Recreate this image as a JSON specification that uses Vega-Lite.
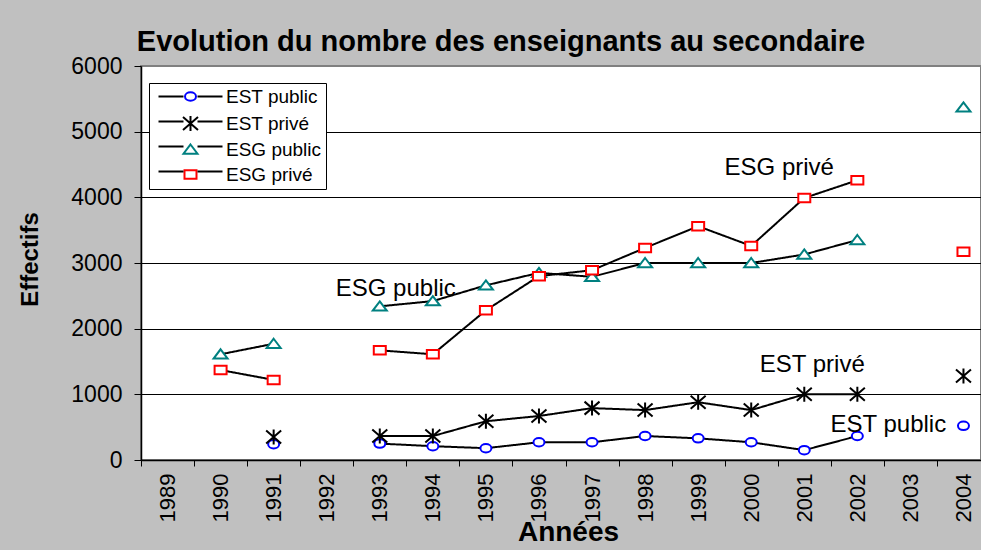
{
  "$schema": "https://vega.github.io/schema/vega-lite/v6.json",
  "width": 840,
  "height": 394,
  "autosize": {"type": "none"},
  "padding": {"left": 141, "top": 66, "right": 0, "bottom": 90},
  "background": "#c0c0c0",
  "title": {
    "text": "Evolution du nombre des enseignants au secondaire",
    "font": "Liberation Sans",
    "fontSize": 29,
    "fontWeight": "bold",
    "color": "black",
    "anchor": "middle",
    "dx": -60,
    "offset": -2
  },
  "config": {
    "font": "Liberation Sans",
    "view": {"fill": "white", "stroke": "#808080", "strokeWidth": 2}
  },
  "datasets": {
    "main": [
      {"year": "1991", "series": "EST public", "value": 240},
      {"year": "1992", "series": "EST public", "value": null},
      {"year": "1993", "series": "EST public", "value": 250},
      {"year": "1994", "series": "EST public", "value": 210},
      {"year": "1995", "series": "EST public", "value": 180},
      {"year": "1996", "series": "EST public", "value": 270},
      {"year": "1997", "series": "EST public", "value": 270},
      {"year": "1998", "series": "EST public", "value": 365},
      {"year": "1999", "series": "EST public", "value": 330},
      {"year": "2000", "series": "EST public", "value": 270},
      {"year": "2001", "series": "EST public", "value": 150},
      {"year": "2002", "series": "EST public", "value": 365},
      {"year": "2003", "series": "EST public", "value": null},
      {"year": "2004", "series": "EST public", "value": 520},
      {"year": "1991", "series": "EST privé", "value": 350},
      {"year": "1992", "series": "EST privé", "value": null},
      {"year": "1993", "series": "EST privé", "value": 365},
      {"year": "1994", "series": "EST privé", "value": 365},
      {"year": "1995", "series": "EST privé", "value": 590},
      {"year": "1996", "series": "EST privé", "value": 670},
      {"year": "1997", "series": "EST privé", "value": 790},
      {"year": "1998", "series": "EST privé", "value": 760},
      {"year": "1999", "series": "EST privé", "value": 880},
      {"year": "2000", "series": "EST privé", "value": 760},
      {"year": "2001", "series": "EST privé", "value": 1000},
      {"year": "2002", "series": "EST privé", "value": 1000},
      {"year": "2003", "series": "EST privé", "value": null},
      {"year": "2004", "series": "EST privé", "value": 1280},
      {"year": "1990", "series": "ESG public", "value": 1610},
      {"year": "1991", "series": "ESG public", "value": 1770},
      {"year": "1992", "series": "ESG public", "value": null},
      {"year": "1993", "series": "ESG public", "value": 2340},
      {"year": "1994", "series": "ESG public", "value": 2420},
      {"year": "1995", "series": "ESG public", "value": 2660},
      {"year": "1996", "series": "ESG public", "value": 2850},
      {"year": "1997", "series": "ESG public", "value": 2790},
      {"year": "1998", "series": "ESG public", "value": 3000},
      {"year": "1999", "series": "ESG public", "value": 3000},
      {"year": "2000", "series": "ESG public", "value": 3000},
      {"year": "2001", "series": "ESG public", "value": 3130},
      {"year": "2002", "series": "ESG public", "value": 3350},
      {"year": "2003", "series": "ESG public", "value": null},
      {"year": "2004", "series": "ESG public", "value": 5370},
      {"year": "1990", "series": "ESG privé", "value": 1370},
      {"year": "1991", "series": "ESG privé", "value": 1220},
      {"year": "1992", "series": "ESG privé", "value": null},
      {"year": "1993", "series": "ESG privé", "value": 1670},
      {"year": "1994", "series": "ESG privé", "value": 1610},
      {"year": "1995", "series": "ESG privé", "value": 2280},
      {"year": "1996", "series": "ESG privé", "value": 2800},
      {"year": "1997", "series": "ESG privé", "value": 2890},
      {"year": "1998", "series": "ESG privé", "value": 3230},
      {"year": "1999", "series": "ESG privé", "value": 3560},
      {"year": "2000", "series": "ESG privé", "value": 3260},
      {"year": "2001", "series": "ESG privé", "value": 3990},
      {"year": "2002", "series": "ESG privé", "value": 4260},
      {"year": "2003", "series": "ESG privé", "value": null},
      {"year": "2004", "series": "ESG privé", "value": 3170}
    ]
  },
  "layer": [
    {
      "data": {"name": "main"},
      "mark": {"type": "line", "color": "black", "strokeWidth": 2},
      "encoding": {
        "x": {
          "field": "year",
          "type": "ordinal",
          "scale": {
            "domain": ["1989","1990","1991","1992","1993","1994","1995","1996","1997","1998","1999","2000","2001","2002","2003","2004"],
            "range": [0, 849],
            "paddingInner": 0,
            "paddingOuter": 0
          },
          "axis": {
            "title": "Années",
            "titleFont": "Liberation Sans",
            "titleFontSize": 28,
            "titleFontWeight": "bold",
            "titleColor": "black",
            "titleX": 427,
            "titleY": 80,
            "titleAlign": "center",
            "titleBaseline": "alphabetic",
            "labelAngle": 270,
            "labelAlign": "right",
            "labelBaseline": "middle",
            "labelFont": "Liberation Sans",
            "labelFontSize": 22,
            "labelColor": "black",
            "labelPadding": 7,
            "tickBand": "extent",
            "tickSize": 6,
            "tickColor": "black",
            "domainColor": "black",
            "domainWidth": 1.5,
            "grid": false
          }
        },
        "y": {
          "field": "value",
          "type": "quantitative",
          "scale": {"domain": [0, 6000], "nice": false},
          "axis": {
            "title": "Effectifs",
            "titleFont": "Liberation Sans",
            "titleFontSize": 24,
            "titleFontWeight": "bold",
            "titleColor": "black",
            "titleX": -111,
            "titleY": 193,
            "titleAngle": 270,
            "titleAlign": "center",
            "titleBaseline": "middle",
            "values": [0, 1000, 2000, 3000, 4000, 5000, 6000],
            "format": "d",
            "labelFont": "Liberation Sans",
            "labelFontSize": 23,
            "labelColor": "black",
            "labelPadding": 12,
            "tickSize": 7,
            "tickColor": "black",
            "domainColor": "black",
            "domainWidth": 1.5,
            "grid": true,
            "gridColor": "black",
            "gridWidth": 1,
            "gridOpacity": {"condition": {"test": "datum.value === 6000", "value": 0}, "value": 1}
          }
        },
        "strokeDash": {
          "field": "series",
          "type": "nominal",
          "sort": "descending",
          "scale": {
            "range": [[1, 0], [1, 0], [1, 0], [1, 0]]
          },
          "legend": {
            "orient": "none",
            "legendX": 8,
            "legendY": 17,
            "zindex": 2,
            "title": null,
            "padding": 4,
            "rowPadding": 5,
            "symbolType": "M-6.4,0H-1.4M1.4,0H6.4",
            "symbolSize": 100,
            "symbolStrokeColor": "black",
            "symbolStrokeWidth": 2,
            "symbolOffset": 28,
            "labelOffset": 26,
            "labelFont": "Liberation Sans",
            "labelFontSize": 19,
            "labelExpr": "' '"
          }
        }
      }
    },
    {
      "data": {"name": "main"},
      "mark": {"type": "point", "filled": false, "fill": "white", "size": 100, "strokeWidth": 2, "opacity": 1},
      "encoding": {
        "x": {"field": "year", "type": "ordinal"},
        "y": {"field": "value", "type": "quantitative"},
        "stroke": {
          "field": "series",
          "type": "nominal",
          "scale": {
            "domain": ["EST public", "EST privé", "ESG public", "ESG privé"],
            "range": ["#0000ff", "#000000", "#008080", "#ff0000"]
          },
          "legend": {
            "orient": "none",
            "legendX": 8,
            "legendY": 17,
            "zindex": 1,
            "title": null,
            "fillColor": "white",
            "strokeColor": "black",
            "padding": 4,
            "rowPadding": 5,
            "symbolSize": 100,
            "symbolStrokeWidth": 2,
            "symbolFillColor": "white",
            "symbolOffset": 28,
            "labelOffset": 26,
            "labelFont": "Liberation Sans",
            "labelFontSize": 19,
            "labelColor": "black",
            "labelExpr": "datum.label + '\u00a0\u00a0'"
          }
        },
        "shape": {
          "field": "series",
          "type": "nominal",
          "scale": {
            "domain": ["EST public", "EST privé", "ESG public", "ESG privé"],
            "range": [
              "M1.1,0A1.1,0.85 0 1,1 -1.1,0A1.1,0.85 0 1,1 1.1,0Z",
              "M-1.5,-1.3L1.5,1.3M-1.5,1.3L1.5,-1.3M0,-1.5V1.5",
              "M0,-1L1.4,0.85H-1.4Z",
              "M-1.2,-0.85H1.2V0.85H-1.2Z"
            ]
          },
          "legend": {
            "orient": "none",
            "legendX": 8,
            "legendY": 17,
            "zindex": 1,
            "title": null,
            "fillColor": "white",
            "strokeColor": "black",
            "padding": 4,
            "rowPadding": 5,
            "symbolSize": 100,
            "symbolStrokeWidth": 2,
            "symbolFillColor": "white",
            "symbolOffset": 28,
            "labelOffset": 26,
            "labelFont": "Liberation Sans",
            "labelFontSize": 19,
            "labelColor": "black",
            "labelExpr": "datum.label + '\u00a0\u00a0'"
          }
        }
      }
    },
    {
      "data": {"values": [{"year": "1993", "value": 2500, "label": "ESG public"}]},
      "mark": {"type": "text", "font": "Liberation Sans", "fontSize": 24, "color": "black", "align": "center", "baseline": "alphabetic", "dx": 16},
      "encoding": {
        "x": {"field": "year", "type": "ordinal"},
        "y": {"field": "value", "type": "quantitative"},
        "text": {"field": "label"}
      }
    },
    {
      "data": {"values": [{"year": "2000", "value": 4340, "label": "ESG privé"}]},
      "mark": {"type": "text", "font": "Liberation Sans", "fontSize": 24, "color": "black", "align": "center", "baseline": "alphabetic", "dx": 28},
      "encoding": {
        "x": {"field": "year", "type": "ordinal"},
        "y": {"field": "value", "type": "quantitative"},
        "text": {"field": "label"}
      }
    },
    {
      "data": {"values": [{"year": "2001", "value": 1340, "label": "EST privé"}]},
      "mark": {"type": "text", "font": "Liberation Sans", "fontSize": 24, "color": "black", "align": "center", "baseline": "alphabetic", "dx": 8},
      "encoding": {
        "x": {"field": "year", "type": "ordinal"},
        "y": {"field": "value", "type": "quantitative"},
        "text": {"field": "label"}
      }
    },
    {
      "data": {"values": [{"year": "2002", "value": 426, "label": "EST public"}]},
      "mark": {"type": "text", "font": "Liberation Sans", "fontSize": 24, "color": "black", "align": "center", "baseline": "alphabetic", "dx": 31},
      "encoding": {
        "x": {"field": "year", "type": "ordinal"},
        "y": {"field": "value", "type": "quantitative"},
        "text": {"field": "label"}
      }
    }
  ]
}
